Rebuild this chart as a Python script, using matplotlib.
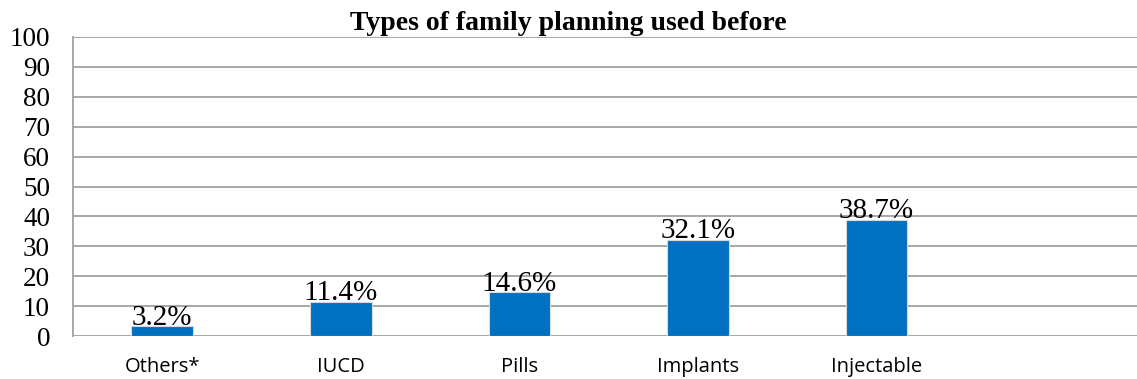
import numpy as np
import matplotlib.pyplot as plt

# data
methods = ['Others*', 'IUCD', 'Pills', 'Implants', 'Injectable']
percent = [3.2, 11.4, 14.6, 32.1, 38.7]
yticks = list(range(0, 101, 10))

fig = plt.figure(figsize=(11.37, 3.79), dpi=100)
ax = fig.add_axes([73 / 1137, 1 - 336 / 379, 1 - 73 / 1137, 299 / 379])

x = np.arange(len(methods))
bars = ax.bar(x, percent, width=0.345, color='#0070C0', edgecolor='#d9d9d9',
              linewidth=0.8, zorder=3)

for b, v in zip(bars, percent):
    ax.text(b.get_x() + b.get_width() / 2, v - 1.4, '{}%'.format(v),
            ha='center', va='bottom', family='Liberation Serif', fontsize=21,
            zorder=4)

ax.set_xlim(-0.5, 5.46)
ax.set_ylim(0, 100)
ax.set_yticks(yticks)
ax.set_yticklabels([str(t) for t in yticks], family='Liberation Serif', fontsize=19.5)
ax.set_xticks(x)
ax.set_xticklabels(methods, family='Open Sans', fontsize=14.5)
ax.tick_params(axis='y', length=0, pad=16.5)
ax.tick_params(axis='x', length=0, pad=15)

ax.grid(axis='y', color='#a0a0a0', linewidth=1.3, zorder=0)
for s in ['top', 'right', 'bottom']:
    ax.spines[s].set_visible(False)
ax.spines['left'].set_color('#a0a0a0')
ax.spines['left'].set_linewidth(1.3)

fig.text(0.5, 1 - 24 / 379, 'Types of family planning used before', ha='center',
         va='center', family='Liberation Serif', fontweight='bold', fontsize=20)

fig.savefig('out.png', dpi=100)
